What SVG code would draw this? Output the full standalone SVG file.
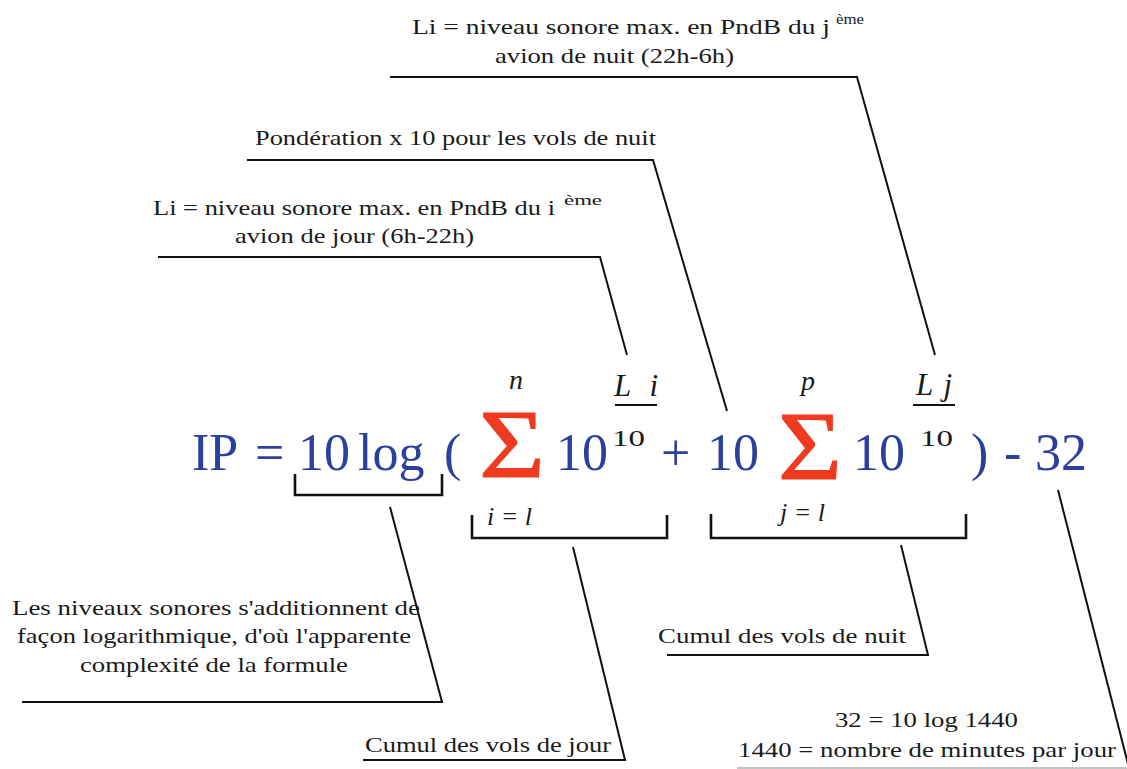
<svg xmlns="http://www.w3.org/2000/svg" width="1127" height="769" viewBox="0 0 1127 769">
<style>
  .t{font-family:"Liberation Serif","Times New Roman",serif;font-size:21px;fill:#1a1a1a}
  .sup{font-size:15px}
  .f{font-family:"Liberation Serif","Times New Roman",serif;font-size:52px;fill:#2c3f9e}
  .sig{font-family:"Liberation Serif","Times New Roman",serif;font-size:98px;fill:#f03a20;stroke:#f03a20;stroke-width:1.2}
  .s{font-family:"Liberation Serif","Times New Roman",serif;font-size:24px;fill:#1a1a1a}
  .i{font-style:italic;font-weight:normal;font-size:28px}
  .big{font-size:31px}
  .sm{font-size:26px}
  .ln{fill:none;stroke:#111;stroke-width:2;stroke-linejoin:miter}
  .br{fill:none;stroke:#111;stroke-width:2.6}
</style>
<rect width="1127" height="769" fill="#ffffff"/>

<g id="formula">
  <text class="f" x="192" y="470">IP</text>
  <text class="f" x="255" y="470">=</text>
  <text class="f" x="298" y="470">10</text>
  <text class="f" x="358" y="470">log</text>
  <text class="f" x="444" y="470">(</text>
  <text class="sig" x="479" y="477" textLength="66" lengthAdjust="spacingAndGlyphs">Σ</text>
  <text class="f" x="556" y="470">10</text>
  <text class="f" x="661" y="470">+</text>
  <text class="f" x="707" y="470">10</text>
  <text class="sig" x="778" y="479" textLength="64" lengthAdjust="spacingAndGlyphs">Σ</text>
  <text class="f" x="853" y="470">10</text>
  <text class="f" x="971" y="470">)</text>
  <text class="f" x="1004" y="470">-</text>
  <text class="f" x="1035" y="470">32</text>

  <text class="s i" x="509" y="389">n</text>
  <text class="s i big" x="614" y="396" textLength="44">L i</text>
  <line class="ln" x1="615" y1="405" x2="657" y2="405"/>
  <text class="s" x="612" y="446" textLength="33" lengthAdjust="spacingAndGlyphs">10</text>
  <text class="s i sm" x="487" y="525">i = l</text>

  <text class="s i" x="801" y="390">p</text>
  <text class="s i big" x="916" y="395" textLength="36">Lj</text>
  <line class="ln" x1="913" y1="405" x2="955" y2="405"/>
  <text class="s" x="920" y="446" textLength="33" lengthAdjust="spacingAndGlyphs">10</text>
  <text class="s i sm" x="780" y="521">j = l</text>
</g>

<g id="brackets">
  <path class="br" d="M295,474 V495 H442 V474"/>
  <path class="br" d="M472,515 V538 H667 V515"/>
  <path class="br" d="M711,514 V538 H966 V514"/>
</g>

<g id="connectors">
  <polyline class="ln" points="390,77 857,77 935,355"/>
  <polyline class="ln" points="247,160 653,160 727,411"/>
  <polyline class="ln" points="158,257 600,257 627,355"/>
  <polyline class="ln" points="390,507 442,702 22,702"/>
  <polyline class="ln" points="573,547 625,760 363,760"/>
  <polyline class="ln" points="901,545 928,655 667,655"/>
  <line class="ln" x1="1058" y1="490" x2="1128" y2="764"/>
  <line x1="737" y1="768" x2="1127" y2="768" stroke="#b0b0b0" stroke-width="1.5"/>
</g>

<g id="label-nuit">
  <text class="t" x="412" y="34" textLength="418" lengthAdjust="spacingAndGlyphs">Li = niveau sonore max. en PndB du j</text>
  <text class="t sup" x="836" y="24" textLength="28" lengthAdjust="spacingAndGlyphs">ème</text>
  <text class="t" x="495" y="63" textLength="239" lengthAdjust="spacingAndGlyphs">avion de nuit (22h-6h)</text>
</g>

<g id="label-ponderation">
  <text class="t" x="255" y="145" textLength="401" lengthAdjust="spacingAndGlyphs">Pondération x 10 pour les vols de nuit</text>
</g>

<g id="label-jour">
  <text class="t" x="153" y="215" textLength="402" lengthAdjust="spacingAndGlyphs">Li = niveau sonore max. en PndB du i</text>
  <text class="t sup" x="564" y="205" textLength="38" lengthAdjust="spacingAndGlyphs">ème</text>
  <text class="t" x="235" y="243" textLength="239" lengthAdjust="spacingAndGlyphs">avion de jour (6h-22h)</text>
</g>

<g id="label-log">
  <text class="t" x="12" y="615" textLength="408" lengthAdjust="spacingAndGlyphs">Les niveaux sonores s'additionnent de</text>
  <text class="t" x="17" y="643" textLength="394" lengthAdjust="spacingAndGlyphs">façon logarithmique, d'où l'apparente</text>
  <text class="t" x="80" y="672" textLength="268" lengthAdjust="spacingAndGlyphs">complexité de la formule</text>
</g>

<g id="label-cumul-jour">
  <text class="t" x="365" y="752" textLength="246" lengthAdjust="spacingAndGlyphs">Cumul des vols de jour</text>
</g>

<g id="label-cumul-nuit">
  <text class="t" x="658" y="643" textLength="248" lengthAdjust="spacingAndGlyphs">Cumul des vols de nuit</text>
</g>

<g id="label-32">
  <text class="t" x="835" y="727" textLength="183" lengthAdjust="spacingAndGlyphs">32 = 10 log 1440</text>
  <text class="t" x="738" y="757" textLength="378" lengthAdjust="spacingAndGlyphs">1440 = nombre de minutes par jour</text>
</g>
</svg>
